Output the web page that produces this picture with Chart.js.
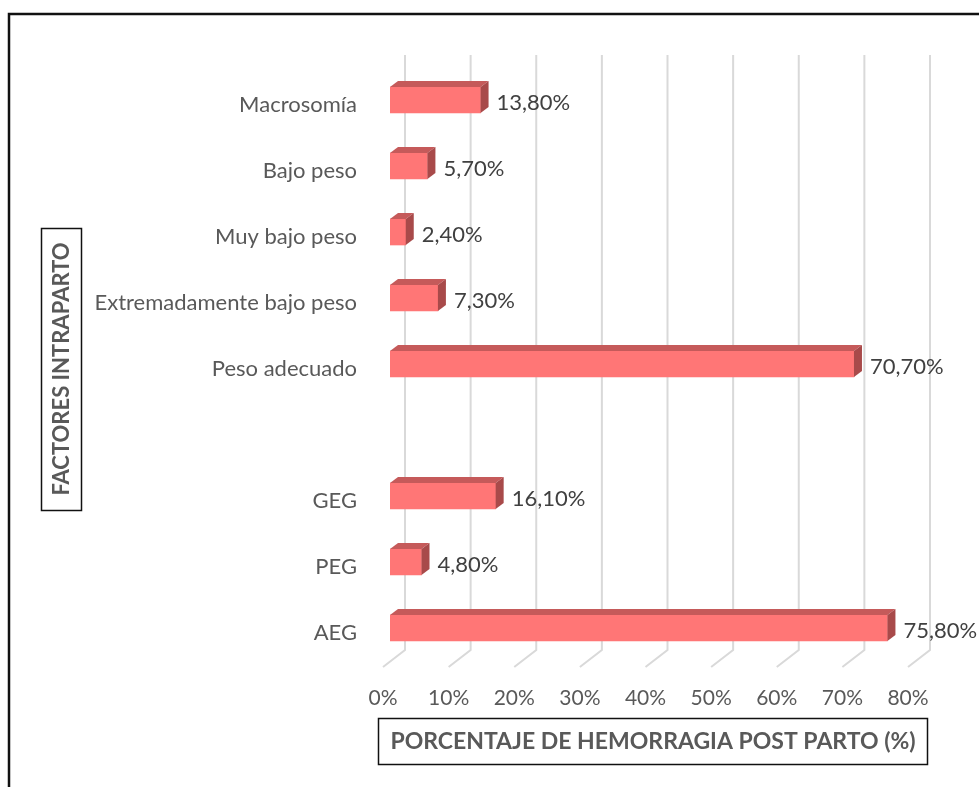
<!DOCTYPE html>
<html>
<head>
<meta charset="utf-8">
<script src="https://cdn.jsdelivr.net/npm/chart.js@4.4.0/dist/chart.umd.min.js"></script>
<style>
  html, body { margin: 0; padding: 0; background: #fff; overflow: hidden; }
</style>
</head>
<body>
<canvas id="chart" width="979" height="787"></canvas>
<script>
// Chart data
const categories = ['Macrosomía', 'Bajo peso', 'Muy bajo peso', 'Extremadamente bajo peso', 'Peso adecuado', '', 'GEG', 'PEG', 'AEG'];
const values = [13.8, 5.7, 2.4, 7.3, 70.7, null, 16.1, 4.8, 75.8];
const xTicks = [0, 10, 20, 30, 40, 50, 60, 70, 80];
const xTitle = 'PORCENTAJE DE HEMORRAGIA POST PARTO (%)';
const yTitle = 'FACTORES INTRAPARTO';

const FONT = 'Lato, "Open Sans", sans-serif';
const DEPTH_X = 8, DEPTH_Y = -6;

// back wall + floor grid, drawn behind the bars
const gridPlugin = {
    id: 'grid3d',
    beforeDatasetsDraw(chart) {
        const ctx = chart.ctx;
        const area = chart.chartArea;
        const x = chart.scales.x;
        ctx.save();
        ctx.strokeStyle = '#d9d9d9';
        ctx.lineWidth = 2;
        xTicks.forEach(t => {
            const px = x.getPixelForValue(t);
            ctx.beginPath();
            ctx.moveTo(px + 15, area.top - 12);
            ctx.lineTo(px + 15, area.bottom - 11);
            ctx.lineTo(px - 7, area.bottom + 6);
            ctx.stroke();
        });
        ctx.restore();
    },
    afterDatasetsDraw(chart) {
        const ctx = chart.ctx;
        const meta = chart.getDatasetMeta(0);
        ctx.save();
        meta.data.forEach((bar, i) => {
            if (values[i] === null) return;
            const top = bar.y - bar.height / 2;
            const bottom = bar.y + bar.height / 2;
            const left = bar.base, right = bar.x;
            // top face
            ctx.fillStyle = '#c55a5a';
            ctx.beginPath();
            ctx.moveTo(left, top);
            ctx.lineTo(left + DEPTH_X, top + DEPTH_Y);
            ctx.lineTo(right + DEPTH_X, top + DEPTH_Y);
            ctx.lineTo(right, top);
            ctx.closePath();
            ctx.fill();
            // side face
            ctx.fillStyle = '#a84a4a';
            ctx.beginPath();
            ctx.moveTo(right, top);
            ctx.lineTo(right + DEPTH_X, top + DEPTH_Y);
            ctx.lineTo(right + DEPTH_X, bottom + DEPTH_Y);
            ctx.lineTo(right, bottom);
            ctx.closePath();
            ctx.fill();
            // data label
            ctx.fillStyle = '#404040';
            ctx.font = '22px ' + FONT;
            ctx.textAlign = 'left';
            ctx.textBaseline = 'middle';
            ctx.fillText(values[i].toFixed(2).replace('.', ',') + '%', right + 16, bar.y + 3);
        });
        ctx.restore();
    },
    afterDraw(chart) {
        const ctx = chart.ctx;
        ctx.save();
        // outer frame
        ctx.strokeStyle = '#111';
        ctx.lineWidth = 2.5;
        ctx.strokeRect(9, 14, 1200, 1200);

        // x axis title with box
        ctx.lineWidth = 1.5;
        ctx.strokeRect(378.5, 718.5, 549, 46);
        ctx.fillStyle = '#595959';
        ctx.font = 'bold 23px ' + FONT;
        ctx.textAlign = 'center';
        ctx.textBaseline = 'middle';
        ctx.fillText(xTitle, 653, 742);

        // y axis title with box
        ctx.strokeRect(41.5, 228.5, 40, 282);
        ctx.font = 'bold 22px ' + FONT;
        ctx.translate(61, 369);
        ctx.rotate(-Math.PI / 2);
        ctx.fillText(yTitle, 0, 1);
        ctx.restore();
    }
};

new Chart(document.getElementById('chart'), {
    type: 'bar',
    data: {
        labels: categories,
        datasets: [{
            data: values,
            backgroundColor: '#ff7676',
            barThickness: 26,
            borderWidth: 0
        }]
    },
    options: {
        indexAxis: 'y',
        responsive: false,
        animation: false,
        devicePixelRatio: 1,
        layout: { padding: { top: 67, right: 64, left: 0, bottom: 0 } },
        plugins: {
            legend: { display: false },
            tooltip: { enabled: false }
        },
        scales: {
            x: {
                min: 0,
                max: 80,
                afterFit: s => { s.height = 126; },
                grid: { display: false, drawTicks: false },
                border: { display: false },
                ticks: {
                    stepSize: 10,
                    padding: 25,
                    labelOffset: -7,
                    color: '#595959',
                    font: { family: FONT, size: 21 },
                    callback: v => v + '%'
                }
            },
            y: {
                afterFit: s => { s.width = 390; },
                grid: { display: false, drawTicks: false },
                border: { display: false },
                ticks: {
                    padding: 33,
                    labelOffset: 5,
                    color: '#595959',
                    font: { family: FONT, size: 22 }
                }
            }
        }
    },
    plugins: [gridPlugin]
});
</script>
</body>
</html>
